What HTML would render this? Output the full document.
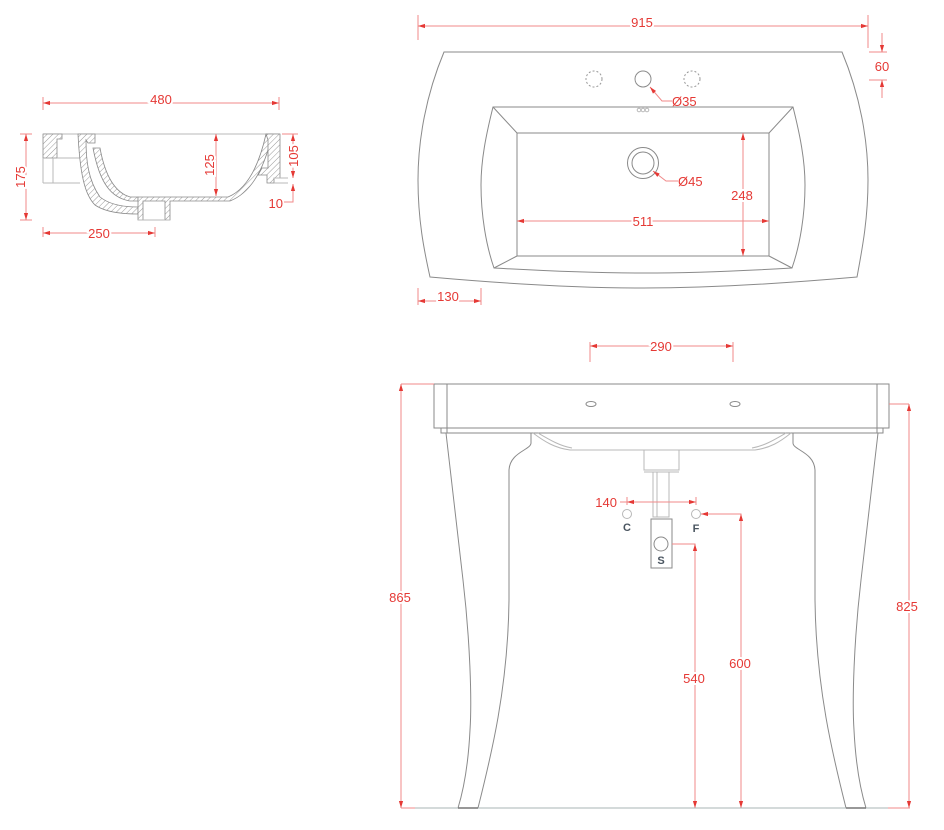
<!DOCTYPE html>
<html><head><meta charset="utf-8"><style>
html,body{margin:0;padding:0;background:#fff;}
svg{display:block;}
text{font-family:"Liberation Sans",sans-serif;font-size:13px;fill:#e53935;}
.g{fill:none;stroke:#8a8a8a;stroke-width:1;}
.gl{fill:none;stroke:#b8b8b8;stroke-width:1;}
.r{fill:none;stroke:#f08a8a;stroke-width:1;}
.h{fill:url(#hatch);stroke:#8a8a8a;stroke-width:0.8;}
.lab{fill:#4a5560;font-weight:bold;font-size:11px;}
</style></head><body>
<svg width="944" height="830" viewBox="0 0 944 830" xmlns="http://www.w3.org/2000/svg">
<defs>
<pattern id="hatch" width="4" height="4" patternUnits="userSpaceOnUse" patternTransform="rotate(45)">
<rect width="4" height="4" fill="#fff"/><line x1="0" y1="0" x2="0" y2="4" stroke="#999" stroke-width="1"/>
</pattern>
<marker id="a" viewBox="0 0 10 10" refX="10" refY="5" markerWidth="7" markerHeight="7" orient="auto-start-reverse" markerUnits="userSpaceOnUse">
<path d="M0,2 L10,5 L0,8 z" fill="#e53935"/></marker>
</defs>

<!-- ===== SECTION VIEW ===== -->
<line class="r" x1="43" y1="97" x2="43" y2="110"/><line class="r" x1="279" y1="97" x2="279" y2="110"/>
<line class="r" x1="43" y1="103" x2="279" y2="103" marker-start="url(#a)" marker-end="url(#a)"/>
<text x="161" y="104" text-anchor="middle" style="paint-order:stroke;stroke:#fff;stroke-width:4px">480</text>
<line class="gl" x1="43" y1="134" x2="280" y2="134"/>
<polygon class="h" points="43,134 62,134 62,139 57,139 57,158 43,158"/>
<line class="gl" x1="43" y1="158" x2="43" y2="183"/><line class="gl" x1="53" y1="158" x2="53" y2="183"/>
<line class="gl" x1="43" y1="183" x2="80" y2="183"/><line class="gl" x1="57" y1="158" x2="85" y2="158"/>
<path class="h" d="M78,134 L95,134 L95,143 L88,143 L86,140 C86,160 88,180 100,197 C110,205 125,207 138,207 L138,214 C120,214 105,212 95,205 C85,195 80,175 78,134 Z"/>
<path class="h" d="M93,148 L100,148 C104,170 112,188 125,195 L130,197 L138,197 L138,201 L130,201 C112,198 100,185 93,148 Z"/>
<path class="h" d="M138,197 L228,197 C245,190 258,170 266,134 L272,134 C264,172 250,193 230,201 L170,201 L170,220 L165,220 L165,201 L143,201 L143,220 L138,220 Z"/>
<line class="gl" x1="138" y1="220" x2="170" y2="220"/>
<polygon class="h" points="266,134 280,134 280,178 274,178 274,183 267,183 267,175 258,175 262,168 268,168 268,140"/>
<line class="gl" x1="274" y1="178" x2="288" y2="178"/><line class="gl" x1="274" y1="183" x2="288" y2="183"/>
<!-- 175 -->
<line class="r" x1="20" y1="134" x2="32" y2="134"/><line class="r" x1="20" y1="220" x2="32" y2="220"/>
<line class="r" x1="26" y1="134" x2="26" y2="220" marker-start="url(#a)" marker-end="url(#a)"/>
<text x="25" y="177" text-anchor="middle" transform="rotate(-90 25 177)" dy="0" style="paint-order:stroke;stroke:#fff;stroke-width:4px">175</text>
<!-- 250 -->
<line class="r" x1="43" y1="227" x2="43" y2="237"/><line class="r" x1="155" y1="227" x2="155" y2="237"/>
<line class="r" x1="43" y1="233" x2="155" y2="233" marker-start="url(#a)" marker-end="url(#a)"/>
<text x="99" y="238" text-anchor="middle" style="paint-order:stroke;stroke:#fff;stroke-width:4px">250</text>
<!-- 125 -->
<line class="r" x1="216" y1="134" x2="216" y2="196" marker-start="url(#a)" marker-end="url(#a)"/>
<text x="216" y="165" text-anchor="middle" transform="rotate(-90 216 165) translate(0 -2)" style="paint-order:stroke;stroke:#fff;stroke-width:4px">125</text>
<!-- 105 -->
<line class="r" x1="282" y1="134" x2="298" y2="134"/>
<line class="r" x1="293" y1="134" x2="293" y2="178" marker-start="url(#a)" marker-end="url(#a)"/>
<text x="293" y="156" text-anchor="middle" transform="rotate(-90 293 156) translate(0 5)" style="paint-order:stroke;stroke:#fff;stroke-width:4px">105</text>
<!-- 10 -->
<line class="r" x1="293" y1="196" x2="293" y2="184" marker-end="url(#a)"/>
<polyline class="r" points="293,196 293,202 284,202"/>
<text x="283" y="208" text-anchor="end">10</text>

<!-- ===== PLAN VIEW ===== -->
<line class="r" x1="418" y1="15" x2="418" y2="40"/><line class="r" x1="868" y1="15" x2="868" y2="48"/>
<line class="r" x1="418" y1="26" x2="868" y2="26" marker-start="url(#a)" marker-end="url(#a)"/>
<text x="642" y="27" text-anchor="middle" style="paint-order:stroke;stroke:#fff;stroke-width:4px">915</text>
<path class="g" d="M444,52 L842,52 C860,95 868,140 868,180 C868,220 862,250 857,277 C800,282 720,288 643,288 C566,288 486,282 430,277 C424,250 418,220 418,180 C418,140 426,95 444,52 Z"/>
<path class="g" d="M493,107 L793,107 C800,135 805,160 805,185 C805,215 800,245 792,268 C740,271 690,273 643,273 C596,273 546,271 494,268 C486,245 481,215 481,185 C481,160 486,135 493,107 Z"/>
<rect class="g" x="517" y="133" width="252" height="123"/>
<line class="g" x1="493" y1="107" x2="517" y2="133"/><line class="g" x1="793" y1="107" x2="769" y2="133"/>
<line class="g" x1="494" y1="268" x2="517" y2="256"/><line class="g" x1="792" y1="268" x2="769" y2="256"/>
<circle cx="594" cy="79" r="8" fill="none" stroke="#999" stroke-dasharray="2,2"/>
<circle cx="643" cy="79" r="8" class="g"/>
<circle cx="692" cy="79" r="8" fill="none" stroke="#999" stroke-dasharray="2,2"/>
<circle cx="639" cy="110" r="1.8" class="gl"/><circle cx="643" cy="110" r="1.8" class="gl"/><circle cx="647" cy="110" r="1.8" class="gl"/>
<circle cx="643" cy="163" r="15.5" class="g"/><circle cx="643" cy="163" r="11" class="g"/>
<polyline class="r" points="672,101 662,101 650,87" marker-end="url(#a)"/>
<text x="672" y="106">Ø35</text>
<polyline class="r" points="678,181 666,181 653,171" marker-end="url(#a)"/>
<text x="678" y="186">Ø45</text>
<line class="r" x1="743" y1="133" x2="743" y2="256" marker-start="url(#a)" marker-end="url(#a)"/>
<text x="742" y="200" text-anchor="middle" style="paint-order:stroke;stroke:#fff;stroke-width:4px">248</text>
<line class="r" x1="517" y1="221" x2="769" y2="221" marker-start="url(#a)" marker-end="url(#a)"/>
<text x="643" y="226" text-anchor="middle" style="paint-order:stroke;stroke:#fff;stroke-width:4px">511</text>
<line class="r" x1="869" y1="52" x2="887" y2="52"/><line class="r" x1="869" y1="80" x2="887" y2="80"/>
<line class="r" x1="882" y1="33" x2="882" y2="52" marker-end="url(#a)"/>
<line class="r" x1="882" y1="98" x2="882" y2="80" marker-end="url(#a)"/>
<text x="882" y="71" text-anchor="middle">60</text>
<line class="r" x1="418" y1="288" x2="418" y2="305"/><line class="r" x1="481" y1="288" x2="481" y2="305"/>
<line class="r" x1="418" y1="301" x2="481" y2="301" marker-start="url(#a)" marker-end="url(#a)"/>
<text x="448" y="301" text-anchor="middle" style="paint-order:stroke;stroke:#fff;stroke-width:4px">130</text>

<!-- ===== FRONT VIEW ===== -->
<line class="r" x1="590" y1="342" x2="590" y2="362"/><line class="r" x1="733" y1="342" x2="733" y2="362"/>
<line class="r" x1="590" y1="346" x2="733" y2="346" marker-start="url(#a)" marker-end="url(#a)"/>
<text x="661" y="351" text-anchor="middle" style="paint-order:stroke;stroke:#fff;stroke-width:4px">290</text>
<rect class="g" x="434" y="384" width="455" height="44"/>
<line class="g" x1="447" y1="384" x2="447" y2="433"/><line class="g" x1="877" y1="384" x2="877" y2="433"/>
<polyline class="g" points="441,428 441,433 883,433 883,428"/>
<ellipse cx="591" cy="404" rx="5" ry="2.5" class="g"/><ellipse cx="735" cy="404" rx="5" ry="2.5" class="g"/>
<path class="gl" d="M533,433 C545,442 555,448 570,450 L755,450 C770,448 780,442 791,433"/>
<path class="gl" d="M538,433 C550,440 560,446 572,448"/><path class="gl" d="M786,433 C774,440 764,446 752,448"/>
<!-- legs -->
<path class="g" d="M446,433 L463,580 C470,640 472,700 470,730 C468,770 462,795 458,808"/>
<path class="g" d="M531,433 L531,443 C531,450 510,452 509,470 L509,600 C508,690 490,760 478,808"/>
<path class="g" d="M878,433 L861,580 C854,640 852,700 854,730 C856,770 862,795 866,808"/>
<path class="g" d="M793,433 L793,443 C793,450 814,452 815,470 L815,600 C816,690 834,760 846,808"/>
<!-- trap -->
<rect class="gl" x="644" y="450" width="35" height="20"/><line class="gl" x1="644" y1="472" x2="679" y2="472"/>
<rect class="gl" x="653" y="472" width="16" height="45"/><line class="gl" x1="657" y1="472" x2="657" y2="517"/>
<rect class="g" x="651" y="519" width="21" height="49"/>
<circle cx="661" cy="544" r="7" class="g"/>
<text x="661" y="564" text-anchor="middle" class="lab">S</text>
<circle cx="627" cy="514" r="4.5" class="gl"/><text x="627" y="531" text-anchor="middle" class="lab">C</text>
<circle cx="696" cy="514" r="4.5" class="gl"/><text x="696" y="532" text-anchor="middle" class="lab">F</text>
<line class="r" x1="627" y1="497" x2="627" y2="505"/><line class="r" x1="696" y1="497" x2="696" y2="505"/>
<line class="r" x1="620" y1="502" x2="696" y2="502"/>
<line class="r" x1="640" y1="502" x2="627" y2="502" marker-end="url(#a)"/>
<line class="r" x1="683" y1="502" x2="696" y2="502" marker-end="url(#a)"/>
<text x="617" y="507" text-anchor="end">140</text>
<polyline class="r" points="701,514 741,514 741,808" marker-start="url(#a)" />
<line class="r" x1="741" y1="808" x2="741" y2="514" marker-end="url(#a)" marker-start="url(#a)"/>
<polyline class="r" points="672,544 695,544 695,808"/>
<line class="r" x1="695" y1="808" x2="695" y2="544" marker-end="url(#a)" marker-start="url(#a)"/>
<text x="740" y="668" text-anchor="middle" style="paint-order:stroke;stroke:#fff;stroke-width:4px">600</text>
<text x="694" y="683" text-anchor="middle" style="paint-order:stroke;stroke:#fff;stroke-width:4px">540</text>
<!-- 865 -->
<line class="r" x1="401" y1="384" x2="434" y2="384"/>
<line class="r" x1="401" y1="384" x2="401" y2="808" marker-start="url(#a)" marker-end="url(#a)"/>
<text x="400" y="602" text-anchor="middle" style="paint-order:stroke;stroke:#fff;stroke-width:4px">865</text>
<!-- 825 -->
<line class="r" x1="889" y1="404" x2="909" y2="404"/>
<line class="r" x1="909" y1="404" x2="909" y2="808" marker-start="url(#a)" marker-end="url(#a)"/>
<text x="907" y="611" text-anchor="middle" style="paint-order:stroke;stroke:#fff;stroke-width:4px">825</text>
<!-- floor -->
<line class="r" x1="401" y1="808" x2="416" y2="808"/><line class="r" x1="888" y1="808" x2="910" y2="808"/>
<line x1="415" y1="808" x2="888" y2="808" stroke="#aab4b4" stroke-width="1"/>
<line x1="458" y1="808" x2="478" y2="808" stroke="#777" stroke-width="1.5"/>
<line x1="846" y1="808" x2="866" y2="808" stroke="#777" stroke-width="1.5"/>
</svg>
</body></html>
